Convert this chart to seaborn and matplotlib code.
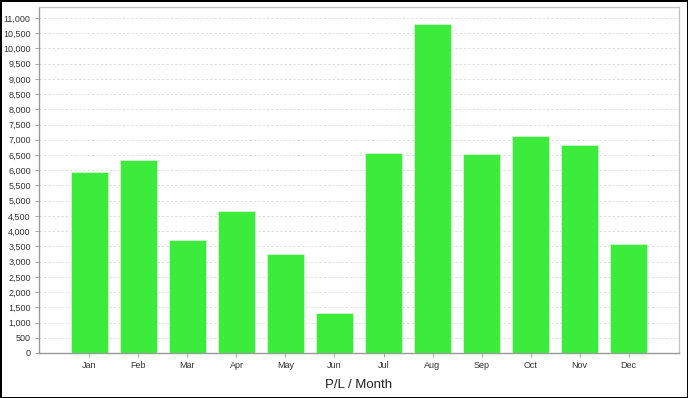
import matplotlib
matplotlib.use("Agg")
import matplotlib.pyplot as plt
import pandas as pd
import seaborn as sns
from matplotlib.ticker import FuncFormatter, MultipleLocator

months = ['Jan', 'Feb', 'Mar', 'Apr', 'May', 'Jun',
          'Jul', 'Aug', 'Sep', 'Oct', 'Nov', 'Dec']
pl = [5940, 6350, 3710, 4650, 3250, 1300, 6570, 10800, 6540, 7130, 6820, 3570]

df = pd.DataFrame({'month': months, 'pl': pl})

sns.set_theme(style='white')
plt.rcParams['font.family'] = ['Liberation Sans', 'DejaVu Sans']

fig = plt.figure(figsize=(6.88, 3.98), dpi=100)
fig.patch.set_edgecolor('black')
fig.patch.set_linewidth(2)
ax = fig.add_axes([39 / 688, 45 / 398, 640 / 688, 346 / 398])

sns.barplot(data=df, x='month', y='pl', color='#3deb3d', saturation=1,
            width=0.755, edgecolor='#d0f7d0', linewidth=0.6, ax=ax, zorder=3)

ax.set_xlim(-1.03, 12.03)
ax.set_ylim(0, 11360)
ax.yaxis.set_major_locator(MultipleLocator(500))
ax.yaxis.set_major_formatter(FuncFormatter(lambda v, _: f'{int(v):,}'))
ax.grid(axis='y', color='#e0e0e0', linestyle=(0, (2.5, 2)), linewidth=0.7, zorder=0)
ax.set_axisbelow(True)

for side in ['left', 'bottom']:
    ax.spines[side].set_color('#999999')
for side in ['top', 'right']:
    ax.spines[side].set_color('#c4c4c4')
for s in ax.spines.values():
    s.set_linewidth(1)

ax.tick_params(axis='both', labelsize=6.5, colors='#333333', length=3,
               width=0.6, pad=3, direction='out', bottom=True, left=True)
ax.tick_params(axis='both', color='#999999')
ax.set_xlabel('P/L / Month', fontsize=9.5, color='#222222', labelpad=6)
ax.set_ylabel('')

fig.savefig('out.png', dpi=100)
